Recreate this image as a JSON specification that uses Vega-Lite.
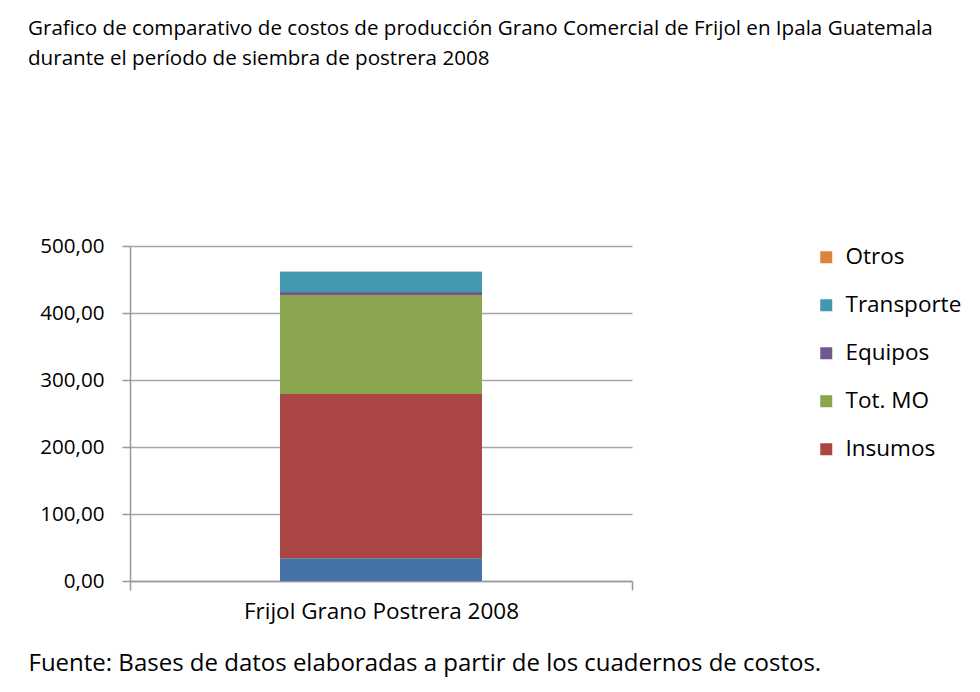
{
  "$schema": "https://vega.github.io/schema/vega-lite/v6.json",
  "autosize": {"type": "none"},
  "width": 502,
  "height": 335,
  "padding": {"left": 130, "top": 246, "right": 348, "bottom": 111},
  "background": "white",
  "config": {
    "locale": {"number": {"decimal": ",", "thousands": ".", "grouping": [3], "currency": ["", ""]}},
    "font": "Open Sans",
    "view": {"stroke": null},
    "axis": {"labelFont": "Open Sans", "titleFont": "Open Sans", "labelColor": "#000000", "titleColor": "#000000"}
  },
  "title": {
    "text": ["Grafico de comparativo de costos de producción Grano Comercial de Frijol en Ipala Guatemala", "durante el período de siembra de postrera 2008"],
    "anchor": "start",
    "frame": "group",
    "dx": -102,
    "offset": 166,
    "fontSize": 20.6,
    "fontWeight": "normal",
    "lineHeight": 30,
    "color": "#000000",
    "font": "Open Sans"
  },
  "data": {
    "values": [
      {"cultivo": "Frijol Grano Postrera 2008", "rubro": "Arrendamiento", "nivel": 1, "costo": 34},
      {"cultivo": "Frijol Grano Postrera 2008", "rubro": "Insumos", "nivel": 2, "costo": 245},
      {"cultivo": "Frijol Grano Postrera 2008", "rubro": "Tot. MO", "nivel": 3, "costo": 148},
      {"cultivo": "Frijol Grano Postrera 2008", "rubro": "Equipos", "nivel": 4, "costo": 4.5},
      {"cultivo": "Frijol Grano Postrera 2008", "rubro": "Transporte", "nivel": 5, "costo": 30},
      {"cultivo": "Frijol Grano Postrera 2008", "rubro": "Otros", "nivel": 6, "costo": 0.5}
    ]
  },
  "mark": {"type": "bar", "size": 202},
  "encoding": {
    "x": {
      "field": "cultivo",
      "type": "nominal",
      "scale": {"paddingOuter": 0, "paddingInner": 0},
      "axis": {
        "labelAngle": 0,
        "labelFontSize": 22.5,
        "labelLimit": 500,
        "labelPadding": 10,
        "tickBand": "extent",
        "tickSize": 9,
        "tickColor": "#999999",
        "tickWidth": 1.5,
        "domainColor": "#999999",
        "domainWidth": 1.5,
        "title": "Fuente: Bases de datos elaboradas a partir de los cuadernos de costos.",
        "titleFontSize": 24,
        "titleFontWeight": "normal",
        "titleAnchor": "start",
        "titleAlign": "left",
        "titleBaseline": "middle",
        "titleLimit": 950,
        "titleX": -102,
        "titleY": 82
      }
    },
    "y": {
      "field": "costo",
      "type": "quantitative",
      "stack": "zero",
      "scale": {"domain": [0, 500], "nice": false},
      "axis": {
        "title": null,
        "values": [0, 100, 200, 300, 400, 500],
        "format": ".2f",
        "labelFontSize": 20.6,
        "labelPadding": 18,
        "tickSize": 8,
        "tickColor": "#999999",
        "tickWidth": 1.5,
        "domainColor": "#999999",
        "domainWidth": 1.5,
        "grid": true,
        "gridColor": "#A6A6A6",
        "gridWidth": 1.5
      }
    },
    "order": {"field": "nivel", "type": "quantitative", "sort": "ascending"},
    "color": {
      "field": "rubro",
      "type": "nominal",
      "scale": {
        "domain": ["Otros", "Transporte", "Equipos", "Tot. MO", "Insumos", "Arrendamiento"],
        "range": ["#DB843D", "#4198AF", "#71588F", "#89A54E", "#AA4643", "#4572A7"]
      },
      "legend": {
        "title": null,
        "values": ["Otros", "Transporte", "Equipos", "Tot. MO", "Insumos"],
        "orient": "right",
        "offset": 183,
        "symbolType": "square",
        "symbolSize": 144,
        "symbolStrokeWidth": 0,
        "labelFontSize": 22.5,
        "labelColor": "#000000",
        "labelFont": "Open Sans",
        "labelLimit": 300,
        "rowPadding": 25,
        "labelOffset": 8
      }
    }
  }
}
